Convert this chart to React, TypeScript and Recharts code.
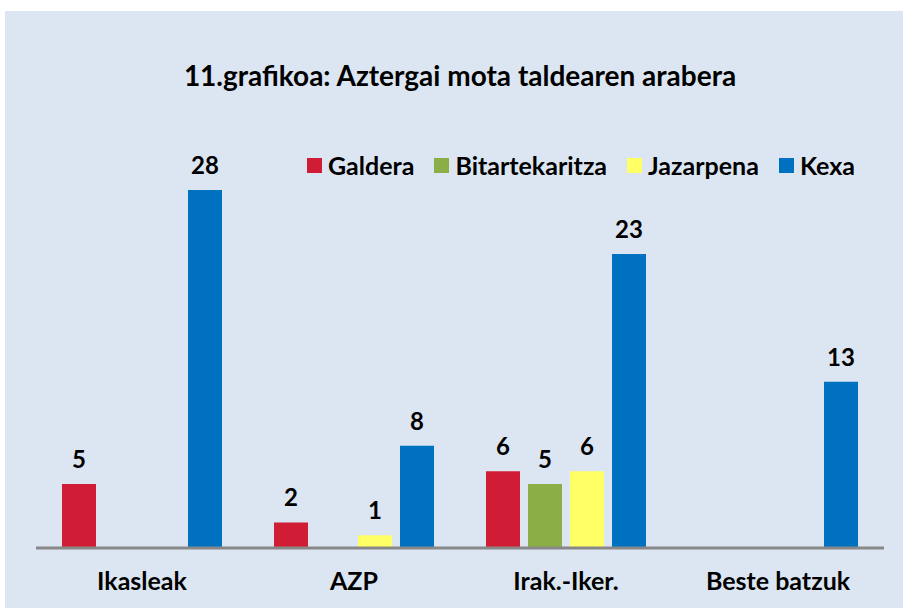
import { BarChart, Bar, XAxis, YAxis, LabelList } from 'recharts';

const categories = ['Ikasleak', 'AZP', 'Irak.-Iker.', 'Beste batzuk'];
const galdera = [5, 2, 6, null];
const bitartekaritza = [null, null, 5, null];
const jazarpena = [null, 1, 6, null];
const kexa = [28, 8, 23, 13];

const seriesNames = ['Galdera', 'Bitartekaritza', 'Jazarpena', 'Kexa'];
const colors = ['#d01c35', '#8bae47', '#ffff66', '#0070c0'];

const data = categories.map((name, i) => ({
  name,
  galdera: galdera[i],
  bitartekaritza: bitartekaritza[i],
  jazarpena: jazarpena[i],
  kexa: kexa[i],
}));

const keys = ['galdera', 'bitartekaritza', 'jazarpena', 'kexa'];

const font = 'Lato, "Open Sans", sans-serif';

const App = () => {
  return (
    <div style={{ position: 'absolute', left: 0, top: 0, width: 903, height: 608, background: '#fff' }}>
      <div style={{ position: 'absolute', left: 5, top: 11, width: 898, height: 597, background: '#dce6f2' }}>
        <div
          style={{
            position: 'absolute',
            left: 0,
            top: 47,
            width: 910,
            lineHeight: '34px',
            textAlign: 'center',
            fontFamily: font,
            fontWeight: 700,
            fontSize: 28,
            color: '#000',
          }}
        >
          11.grafikoa: Aztergai mota taldearen arabera
        </div>
        {/* legend */}
        <div
          style={{
            position: 'absolute',
            left: 302,
            top: 139,
            height: 30,
            display: 'flex',
            alignItems: 'center',
            fontFamily: font,
            fontWeight: 700,
            fontSize: 25,
            color: '#000',
            whiteSpace: 'nowrap',
          }}
        >
          {seriesNames.map((s, i) => (
            <div key={s} style={{ display: 'flex', alignItems: 'center', marginRight: i < 3 ? 20 : 0 }}>
              <span style={{ display: 'inline-block', width: 15, height: 15, background: colors[i], marginRight: 6 }} />
              <span>{s}</span>
            </div>
          ))}
        </div>
        <BarChart
          width={898}
          height={597}
          data={data}
          margin={{ top: 179, right: 19, bottom: 0, left: 31 }}
          barGap={8}
          barSize={34}
        >
          <XAxis
            dataKey="name"
            height={60}
            axisLine={{ stroke: '#888888', strokeWidth: 3 }}
            tickLine={false}
            tick={{ fill: '#000', fontSize: 25, fontWeight: 700, fontFamily: font }}
            dy={16}
          />
          <YAxis hide domain={[0, 28]} />
          {keys.map((k, i) => (
            <Bar key={k} dataKey={k} name={seriesNames[i]} fill={colors[i]} isAnimationActive={false}>
              <LabelList
                dataKey={k}
                position="top"
                offset={16}
                style={{ fill: '#000', fontSize: 24, fontWeight: 700, fontFamily: font }}
              />
            </Bar>
          ))}
        </BarChart>
      </div>
    </div>
  );
};

export default App;
